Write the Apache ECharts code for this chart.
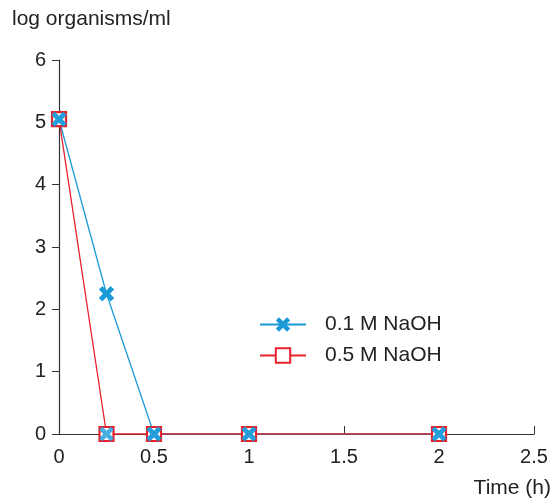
<!DOCTYPE html>
<html><head><meta charset="utf-8">
<script src="https://cdn.jsdelivr.net/npm/echarts@6/dist/echarts.min.js"></script>
<style>html,body{margin:0;padding:0;background:#fff}#c{width:552px;height:499px}</style>
</head><body><div id="c"></div>
<script>
const times = [0, 0.25, 0.5, 1, 2];
const naoh01 = [5.05, 2.25, 0, 0, 0];
const naoh05 = [5.05, 0, 0, 0, 0];
const seriesNames = ['0.1 M NaOH', '0.5 M NaOH'];
const yTitle = 'log organisms/ml';
const xTitle = 'Time (h)';

const FONT = 'Liberation Sans, Arial, sans-serif';
const BLUE = '#1b9ad8';
const RED = '#e8222c';
const XPATH = 'path://M0,2.2 L2.2,0 L5,2.8 L7.8,0 L10,2.2 L7.2,5 L10,7.8 L7.8,10 L5,7.2 L2.2,10 L0,7.8 L2.8,5 Z';

const chart = echarts.init(document.getElementById('c'), null, {renderer: 'canvas'});
chart.setOption({
  animation: false,
  backgroundColor: '#fff',
  grid: {left: 59, right: 18, top: 60, bottom: 65, containLabel: false},
  legend: {
    orient: 'vertical', left: 254, top: 309, itemWidth: 46, itemHeight: 18, itemGap: 10,
    textStyle: {fontFamily: FONT, fontSize: 21, color: '#222', padding: [0,0,0,14]},
    data: [seriesNames[0], seriesNames[1]]
  },
  graphic: [
    {type: 'text', left: 12, top: 9, style: {text: yTitle, font: '21px ' + FONT, fill: '#222'}},
    {type: 'text', right: 1, top: 478, style: {text: xTitle, font: '21px ' + FONT, fill: '#222'}}
  ],
  xAxis: {
    type: 'value', min: 0, max: 2.5, interval: 0.5,
    axisLine: {lineStyle: {color: '#333', width: 1.2}},
    axisTick: {show: true, inside: true, length: 8, lineStyle: {color: '#333'}},
    axisLabel: {fontFamily: FONT, fontSize: 20, color: '#222', margin: 13},
    splitLine: {show: false}
  },
  yAxis: {
    type: 'value', min: 0, max: 6, interval: 1,
    axisLine: {show: true, lineStyle: {color: '#333', width: 1.2}},
    axisTick: {show: true, inside: false, length: 7, lineStyle: {color: '#333'}},
    axisLabel: {fontFamily: FONT, fontSize: 20, color: '#222', margin: 13},
    splitLine: {show: false}
  },
  series: [
    {
      name: seriesNames[1], type: 'line', z: 3,
      data: times.map((t, i) => [t, naoh05[i]]),
      symbol: 'rect', symbolSize: 14,
      itemStyle: {color: '#fff', borderColor: RED, borderWidth: 2.2},
      lineStyle: {color: RED, width: 1.3}
    },
    {
      name: seriesNames[0], type: 'line', z: 2,
      data: times.map((t, i) => [t, naoh01[i]]),
      symbol: XPATH, symbolSize: 15,
      itemStyle: {color: BLUE, borderWidth: 0},
      lineStyle: {color: BLUE, width: 1.3}
    },
    {
      type: 'scatter', z: 4, silent: true,
      data: times.map((t, i) => [t, naoh01[i]]).concat(times.map((t, i) => [t, naoh05[i]])),
      symbol: XPATH, symbolSize: 15,
      itemStyle: {color: BLUE}
    }
  ]
});
</script></body></html>
